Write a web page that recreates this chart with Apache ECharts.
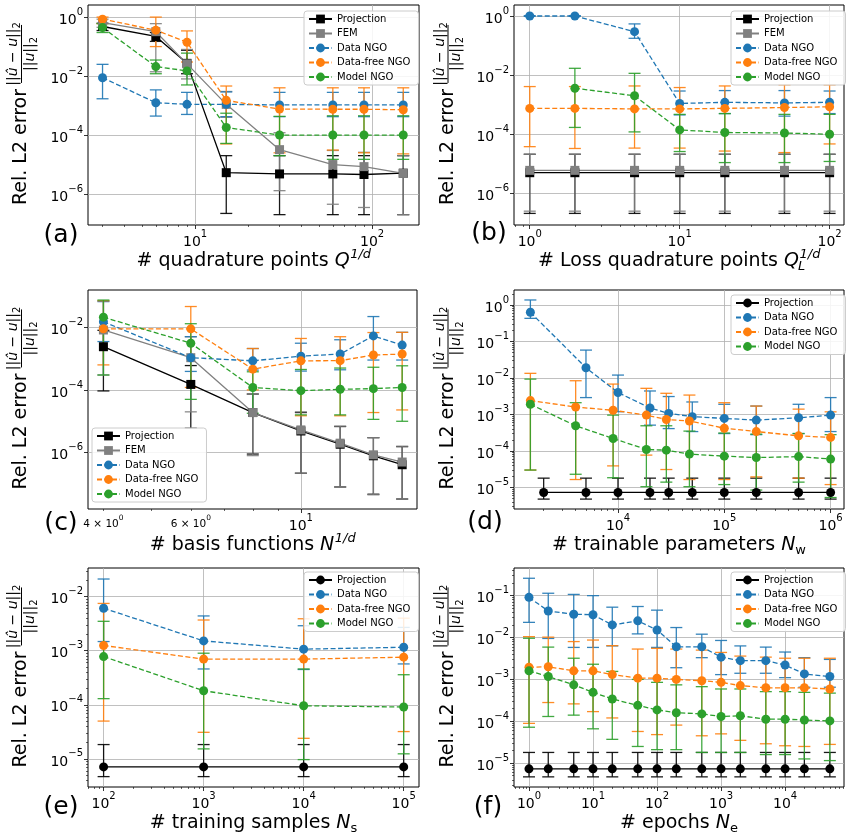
<!DOCTYPE html>
<html><head><meta charset="utf-8">
<script src="https://cdn.jsdelivr.net/npm/echarts@6/dist/echarts.min.js"></script>
<style>html,body{margin:0;padding:0;background:#fff}#c{width:852px;height:838px}</style>
</head><body><div id="c"></div>
<script>
// ---------------- DATA ----------------
// (a) quadrature points
const A_X = [3, 6, 9, 15, 30, 60, 90, 150];
const A_PROJ = [0.48, 0.22, 0.027, 5.3e-6, 4.8e-6, 4.8e-6, 4.6e-6, 5.1e-6];
const A_PROJ_LO = [0.35, 0.15, 0.012, 2.2e-7, 2.0e-7, 2.0e-7, 2.0e-7, 2.0e-7];
const A_PROJ_HI = [0.62, 0.3, 0.075, 2.0e-5, 2.0e-5, 2.0e-5, 2.0e-5, 2.0e-5];
const A_FEM = [0.65, 0.32, 0.026, 1.1e-3, 3.2e-5, 1.0e-5, 8.5e-6, 5.0e-6];
const A_FEM_LO = [0.45, 0.014, 0.008, 4e-4, 1.3e-6, 4.5e-7, 3.5e-7, 2.0e-7];
const A_FEM_HI = [0.85, 0.6, 0.08, 3e-3, 1.2e-4, 3e-5, 2.6e-5, 2.0e-5];
const A_DATA = [8.8e-3, 1.25e-3, 1.1e-3, 1.1e-3, 1.05e-3, 1.05e-3, 1.05e-3, 1.05e-3];
const A_DATA_LO = [1.7e-3, 4.4e-4, 5e-4, 4.2e-4, 4.2e-4, 4.2e-4, 4.2e-4, 4.2e-4];
const A_DATA_HI = [2.5e-2, 3.4e-3, 2.8e-3, 2.9e-3, 2.8e-3, 2.8e-3, 2.8e-3, 2.8e-3];
const A_FREE = [0.85, 0.36, 0.14, 1.5e-3, 7.6e-4, 7.5e-4, 7.5e-4, 7.2e-4];
const A_FREE_LO = [0.6, 0.1, 0.03, 5e-5, 2.5e-5, 3.1e-5, 2.5e-5, 2.3e-5];
const A_FREE_HI = [1.0, 1.0, 0.34, 4.6e-3, 4e-3, 4e-3, 4e-3, 4e-3];
const A_MODEL = [0.44, 0.021, 0.015, 1.8e-4, 1.0e-4, 1.0e-4, 1.0e-4, 1.0e-4];
const A_MODEL_LO = [0.3, 0.012, 0.005, 5.2e-5, 2e-5, 1.5e-5, 1.5e-5, 1.5e-5];
const A_MODEL_HI = [0.6, 0.035, 0.06, 5.5e-4, 4.3e-4, 4.5e-4, 4.5e-4, 4.5e-4];

// (b) loss quadrature points
const B_X = [1, 2, 5, 10, 20, 50, 100];
const B_PROJ = [5.0e-6, 5.0e-6, 5.0e-6, 5.0e-6, 5.0e-6, 5.0e-6, 5.0e-6];
const B_PROJ_LO = [2.1e-7, 2.1e-7, 2.1e-7, 2.1e-7, 2.1e-7, 2.1e-7, 2.1e-7];
const B_PROJ_HI = [2.1e-5, 2.1e-5, 2.1e-5, 2.1e-5, 2.1e-5, 2.1e-5, 2.1e-5];
const B_FEM = [6.0e-6, 6.0e-6, 6.0e-6, 6.0e-6, 6.0e-6, 6.0e-6, 6.0e-6];
const B_FEM_LO = [2.5e-7, 2.5e-7, 2.5e-7, 2.5e-7, 2.5e-7, 2.5e-7, 2.5e-7];
const B_FEM_HI = [2.1e-5, 2.1e-5, 2.1e-5, 2.1e-5, 2.1e-5, 2.1e-5, 2.1e-5];
const B_DATA = [1.0, 1.0, 0.295, 1.1e-3, 1.2e-3, 1.15e-3, 1.2e-3];
const B_DATA_LO = [0.97, 0.97, 0.176, 4.5e-4, 5e-4, 4.1e-4, 5e-4];
const B_DATA_HI = [1.03, 1.03, 0.54, 2.9e-3, 3e-3, 3e-3, 2.9e-3];
const B_FREE = [7.5e-4, 7.5e-4, 7.2e-4, 7.2e-4, 7.5e-4, 8e-4, 8.5e-4];
const B_FREE_LO = [3.8e-5, 3.3e-5, 3.4e-5, 3.4e-5, 2.7e-5, 2.4e-5, 4.7e-5];
const B_FREE_HI = [4.1e-3, 4.1e-3, 4.3e-3, 3.8e-3, 4.3e-3, 4.7e-3, 4.7e-3];
const B_X_MODEL = [2, 5, 10, 20, 50, 100];
const B_MODEL = [3.6e-3, 2.0e-3, 1.4e-4, 1.15e-4, 1.1e-4, 1.0e-4];
const B_MODEL_LO = [1.7e-4, 1.2e-4, 2.6e-5, 1.1e-5, 1.1e-5, 1.2e-5];
const B_MODEL_HI = [0.017, 0.0115, 4.7e-4, 5e-4, 4.7e-4, 4.7e-4];

// (c) basis functions
const C_X = [4, 6, 8, 10, 12, 14, 16];
const C_PROJ = [2.4e-3, 1.5e-4, 1.9e-5, 4.9e-6, 1.85e-6, 7.9e-7, 4.1e-7];
const C_PROJ_LO = [9.3e-5, 6e-6, 9e-7, 2.2e-7, 8e-8, 4.7e-8, 3.3e-8];
const C_PROJ_HI = [8e-3, 6e-4, 7.4e-5, 1.9e-5, 6.8e-6, 3e-6, 1.55e-6];
const C_FEM = [8.2e-3, 1.07e-3, 1.9e-5, 5.3e-6, 2.0e-6, 8.5e-7, 5.0e-7];
const C_FEM_LO = [3e-4, 2e-5, 8e-7, 2.2e-7, 8e-8, 4.5e-8, 3.3e-8];
const C_FEM_HI = [0.07, 5e-3, 7.4e-5, 2e-5, 7e-6, 3e-6, 1.6e-6];
const C_DATA = [1.5e-2, 1.07e-3, 8.5e-4, 1.2e-3, 1.4e-3, 5.3e-3, 2.7e-3];
const C_DATA_LO = [3.5e-3, 3.9e-4, 4.3e-4, 4e-4, 4.4e-4, 9e-4, 9e-4];
const C_DATA_HI = [0.066, 5e-3, 2.1e-3, 3.1e-3, 4e-3, 0.022, 6.9e-3];
const C_FREE = [8.9e-3, 8.9e-3, 4.6e-4, 8.5e-4, 8.6e-4, 1.3e-3, 1.4e-3];
const C_FREE_LO = [6.3e-4, 1.2e-4, 1e-4, 1.5e-5, 1.5e-5, 1.9e-5, 2.3e-5];
const C_FREE_HI = [0.07, 0.046, 2.1e-3, 4.4e-3, 5e-3, 6.8e-3, 6.9e-3];
const C_MODEL = [0.021, 3.1e-3, 1.2e-4, 9.5e-5, 1.05e-4, 1.1e-4, 1.2e-4];
const C_MODEL_LO = [3e-4, 5e-5, 1.8e-5, 1.6e-5, 1.6e-5, 1.15e-5, 1.0e-5];
const C_MODEL_HI = [0.074, 0.013, 3.8e-4, 4.5e-4, 5e-4, 5.3e-4, 5.9e-4];

// (d) trainable parameters
const D_X_PROJ = [2e3, 5e3, 1e4, 2e4, 3e4, 5e4, 1e5, 2e5, 5e5, 1e6];
const D_PROJ = [7.3e-6, 7.3e-6, 7.3e-6, 7.3e-6, 7.3e-6, 7.3e-6, 7.3e-6, 7.3e-6, 7.3e-6, 7.3e-6];
const D_PROJ_LO = [4.8e-6, 4.8e-6, 4.8e-6, 4.8e-6, 4.8e-6, 4.8e-6, 4.8e-6, 4.8e-6, 4.8e-6, 4.8e-6];
const D_PROJ_HI = [1.8e-5, 1.8e-5, 1.8e-5, 1.8e-5, 1.8e-5, 1.8e-5, 1.8e-5, 1.8e-5, 1.8e-5, 1.8e-5];
const D_X_DATA = [1.5e3, 5e3, 1e4, 2e4, 3e4, 5e4, 1e5, 2e5, 5e5, 1e6];
const D_DATA = [0.63, 0.019, 4.0e-3, 1.5e-3, 1.07e-3, 8.7e-4, 7.8e-4, 7.0e-4, 8.1e-4, 9.6e-4];
const D_DATA_LO = [0.43, 2.9e-3, 1.19e-3, 5.1e-4, 4.1e-4, 3.4e-4, 3.0e-4, 2.8e-4, 3.0e-4, 3.4e-4];
const D_DATA_HI = [1.37, 0.058, 0.012, 4.4e-3, 3.1e-3, 2.2e-3, 1.9e-3, 1.7e-3, 1.9e-3, 2.9e-3];
const D_X_NGO = [1.5e3, 4e3, 9e3, 1.85e4, 2.85e4, 4.7e4, 1e5, 2e5, 5e5, 1e6];
const D_FREE = [2.4e-3, 1.6e-3, 1.3e-3, 9.6e-4, 7.3e-4, 6.6e-4, 4.2e-4, 3.4e-4, 2.6e-4, 2.35e-4];
const D_FREE_LO = [3e-5, 1.65e-5, 3.9e-5, 7.7e-5, 3.1e-5, 1.65e-5, 1.65e-5, 1.95e-5, 1.8e-5, 1.2e-5];
const D_FREE_HI = [0.0134, 8.4e-3, 6.8e-3, 5.2e-3, 3.8e-3, 3.4e-3, 2.1e-3, 1.7e-3, 1.4e-3, 1.18e-3];
const D_MODEL = [1.9e-3, 4.9e-4, 2.2e-4, 1.1e-4, 1.05e-4, 8.2e-5, 7.2e-5, 6.6e-5, 7.0e-5, 6.0e-5];
const D_MODEL_LO = [3e-5, 2.3e-5, 1.85e-5, 1.05e-5, 1.4e-5, 1.05e-5, 1.2e-5, 8.5e-6, 1.4e-5, 5.3e-6];
const D_MODEL_HI = [9.3e-3, 2.1e-3, 9.6e-4, 4.9e-4, 4.9e-4, 3.5e-4, 3.1e-4, 2.9e-4, 3.0e-4, 2.8e-4];

// (e) training samples
const E_X = [1e2, 1e3, 1e4, 1e5];
const E_PROJ = [7.1e-6, 7.1e-6, 7.1e-6, 7.1e-6];
const E_PROJ_LO = [4.7e-6, 4.7e-6, 4.7e-6, 4.7e-6];
const E_PROJ_HI = [1.84e-5, 1.84e-5, 1.84e-5, 1.84e-5];
const E_DATA = [6.1e-3, 1.52e-3, 1.07e-3, 1.16e-3];
const E_DATA_LO = [1.48e-3, 4.6e-4, 4.5e-4, 5.7e-4];
const E_DATA_HI = [0.0212, 4.4e-3, 2.9e-3, 2.7e-3];
const E_FREE = [1.25e-3, 7e-4, 7e-4, 7.6e-4];
const E_FREE_LO = [5e-5, 3.1e-5, 2.4e-5, 3.2e-5];
const E_FREE_HI = [7.5e-3, 3.7e-3, 3.9e-3, 4e-3];
const E_MODEL = [7.8e-4, 1.82e-4, 9.6e-5, 9.1e-5];
const E_MODEL_LO = [1.3e-4, 1.53e-5, 9.7e-6, 1.24e-5];
const E_MODEL_HI = [3.5e-3, 9e-4, 4.6e-4, 3.6e-4];

// (f) epochs
const F_X = [1, 2, 5, 10, 20, 50, 100, 200, 500, 1000, 2000, 5000, 1e4, 2e4, 5e4];
const F_PROJ = [7.3e-6, 7.3e-6, 7.3e-6, 7.3e-6, 7.3e-6, 7.3e-6, 7.3e-6, 7.3e-6, 7.3e-6, 7.3e-6, 7.3e-6, 7.3e-6, 7.3e-6, 7.3e-6, 7.3e-6];
const F_PROJ_LO = [4.7e-6, 4.7e-6, 4.7e-6, 4.7e-6, 4.7e-6, 4.7e-6, 4.7e-6, 4.7e-6, 4.7e-6, 4.7e-6, 4.7e-6, 4.7e-6, 4.7e-6, 4.7e-6, 4.7e-6];
const F_PROJ_HI = [1.8e-5, 1.8e-5, 1.8e-5, 1.8e-5, 1.8e-5, 1.8e-5, 1.8e-5, 1.8e-5, 1.8e-5, 1.8e-5, 1.8e-5, 1.8e-5, 1.8e-5, 1.8e-5, 1.8e-5];
const F_DATA = [0.091, 0.043, 0.036, 0.035, 0.020, 0.025, 0.0151, 6.0e-3, 6.0e-3, 3.4e-3, 2.8e-3, 2.8e-3, 2.2e-3, 1.35e-3, 1.17e-3];
const F_DATA_LO = [0.023, 9.5e-3, 5.8e-3, 5.8e-3, 6.3e-3, 0.0122, 5.8e-3, 1.9e-3, 3.3e-3, 1.3e-3, 1.4e-3, 1.4e-3, 1.1e-3, 6.5e-4, 6.5e-4];
const F_DATA_HI = [0.26, 0.114, 0.107, 0.1, 0.053, 0.055, 0.045, 0.0173, 0.012, 8.5e-3, 6.3e-3, 5.9e-3, 4.5e-3, 3.3e-3, 3.0e-3];
const F_FREE = [1.95e-3, 2.0e-3, 1.6e-3, 1.6e-3, 1.3e-3, 1.07e-3, 1.07e-3, 1.0e-3, 9.3e-4, 8.5e-4, 7.1e-4, 6.3e-4, 6.3e-4, 6.3e-4, 5.9e-4];
const F_FREE_LO = [8.9e-5, 2.8e-4, 2.6e-4, 1.7e-4, 1.2e-4, 5.7e-5, 4.8e-5, 8.1e-5, 4.5e-5, 5e-5, 3.5e-5, 2.9e-5, 2.6e-5, 2.5e-5, 2.8e-5];
const F_FREE_HI = [0.0105, 0.0102, 8e-3, 8.7e-3, 6.4e-3, 5.3e-3, 5.5e-3, 5.3e-3, 5e-3, 4.4e-3, 3.6e-3, 3.4e-3, 3.2e-3, 3.2e-3, 3.2e-3];
const F_MODEL = [1.6e-3, 1.17e-3, 7.4e-4, 4.9e-4, 3.4e-4, 2.4e-4, 1.87e-4, 1.6e-4, 1.5e-4, 1.3e-4, 1.35e-4, 1.12e-4, 1.12e-4, 1.07e-4, 1.02e-4];
const F_MODEL_LO = [7.2e-5, 1.3e-4, 1.4e-4, 6.6e-5, 3.7e-5, 2.5e-5, 2.1e-5, 2.1e-5, 1.8e-5, 1.8e-5, 1.8e-5, 1.6e-5, 1.6e-5, 1.26e-5, 1.15e-5];
const F_MODEL_HI = [9.6e-3, 5.9e-3, 3.2e-3, 2.3e-3, 1.55e-3, 1.0e-3, 8.5e-4, 7.4e-4, 6.7e-4, 5.9e-4, 5.9e-4, 5.1e-4, 5.1e-4, 4.9e-4, 4.7e-4];

// tick decades (log10 exponents)
const A_XTICKS = [1, 2], A_YTICKS = [0, -2, -4, -6];
const B_XTICKS = [0, 1, 2], B_YTICKS = [0, -2, -4, -6];
const C_XTICKS = [1], C_YTICKS = [-2, -4, -6], C_XMINOR_LABELS = [4, 6];
const D_XTICKS = [4, 5, 6], D_YTICKS = [0, -1, -2, -3, -4, -5];
const E_XTICKS = [2, 3, 4, 5], E_YTICKS = [-2, -3, -4, -5];
const F_XTICKS = [0, 1, 2, 3, 4], F_YTICKS = [-1, -2, -3, -4, -5];

const NAMES5 = ['Projection', 'FEM', 'Data NGO', 'Data-free NGO', 'Model NGO'];
const NAMES4 = ['Projection ', 'Data NGO', 'Data-free NGO', 'Model NGO'];
// [plain text, italic symbol, superscript, subscript]
const X_LABELS = [
  ['# quadrature points ', 'Q', '1/d', ''],
  ['# Loss quadrature points ', 'Q', '1/d', 'L'],
  ['# basis functions ', 'N', '1/d', ''],
  ['# trainable parameters ', 'N', '', 'w'],
  ['# training samples ', 'N', '', 's'],
  ['# epochs ', 'N', '', 'e']
];
const PANEL_TAGS = ['(a)', '(b)', '(c)', '(d)', '(e)', '(f)'];

// ---------------- STYLE / BUILD ----------------
const FONT = 'DejaVu Sans';
const COL = {proj: '#000000', fem: '#808080', data: '#1f77b4', free: '#ff7f0e', model: '#2ca02c'};
const L = Math.log10;

function minors(lo, hi) {
  const out = [];
  for (let e = Math.floor(lo) - 1; e <= Math.ceil(hi); e++)
    for (let k = 2; k <= 9; k++) { const v = e + L(k); if (v > lo && v < hi) out.push(v); }
  return out;
}
const sup = e => (e < 0 ? '\u2212' + (-e) : '' + e);
const TICK_RICH = {
  b: {fontSize: 14, fontFamily: FONT, color: '#000', lineHeight: 20, verticalAlign: 'bottom'},
  s: {fontSize: 10, fontFamily: FONT, color: '#000', lineHeight: 12, verticalAlign: 'top'},
  m: {fontSize: 10.5, fontFamily: FONT, color: '#000', lineHeight: 16, verticalAlign: 'bottom'},
  ms: {fontSize: 7.5, fontFamily: FONT, color: '#000', lineHeight: 10, verticalAlign: 'top'}
};
const expFmt = v => '{b|10}{s|' + sup(Math.round(v)) + '}';

const panels = [
  {grid: {left: 88, top: 5, width: 331, height: 220}, xr: [0.395, 2.265], yr: [-7.05, 0.41],
   xt: A_XTICKS, yt: A_YTICKS, ymin: false, legend: {left: 304, top: 11}, names: NAMES5, tag: [61, 235],
   series: [
     ['Projection', A_X, A_PROJ, A_PROJ_LO, A_PROJ_HI, COL.proj, 'rect', false],
     ['FEM', A_X, A_FEM, A_FEM_LO, A_FEM_HI, COL.fem, 'rect', false],
     ['Data NGO', A_X, A_DATA, A_DATA_LO, A_DATA_HI, COL.data, 'circle', true],
     ['Data-free NGO', A_X, A_FREE, A_FREE_LO, A_FREE_HI, COL.free, 'circle', true],
     ['Model NGO', A_X, A_MODEL, A_MODEL_LO, A_MODEL_HI, COL.model, 'circle', true]]},
  {grid: {left: 514, top: 5, width: 330, height: 220}, xr: [-0.105, 2.096], yr: [-7.07, 0.372],
   xt: B_XTICKS, yt: B_YTICKS, ymin: false, legend: {left: 731, top: 11}, names: NAMES5, tag: [489, 233],
   series: [
     ['Projection', B_X, B_PROJ, B_PROJ_LO, B_PROJ_HI, COL.proj, 'rect', false],
     ['FEM', B_X, B_FEM, B_FEM_LO, B_FEM_HI, COL.fem, 'rect', false],
     ['Data NGO', B_X, B_DATA, B_DATA_LO, B_DATA_HI, COL.data, 'circle', true],
     ['Data-free NGO', B_X, B_FREE, B_FREE_LO, B_FREE_HI, COL.free, 'circle', true],
     ['Model NGO', B_X_MODEL, B_MODEL, B_MODEL_LO, B_MODEL_HI, COL.model, 'circle', true]]},
  {grid: {left: 88, top: 290, width: 329, height: 219}, xr: [0.571, 1.234], yr: [-7.8, -0.81],
   xt: C_XTICKS, yt: C_YTICKS, ymin: false, xminLabels: C_XMINOR_LABELS, legend: {left: 92, top: 428}, names: NAMES5, tag: [61, 523],
   series: [
     ['Projection', C_X, C_PROJ, C_PROJ_LO, C_PROJ_HI, COL.proj, 'rect', false],
     ['FEM', C_X, C_FEM, C_FEM_LO, C_FEM_HI, COL.fem, 'rect', false],
     ['Data NGO', C_X, C_DATA, C_DATA_LO, C_DATA_HI, COL.data, 'circle', true],
     ['Data-free NGO', C_X, C_FREE, C_FREE_LO, C_FREE_HI, COL.free, 'circle', true],
     ['Model NGO', C_X, C_MODEL, C_MODEL_LO, C_MODEL_HI, COL.model, 'circle', true]]},
  {grid: {left: 514, top: 290, width: 330, height: 219}, xr: [3.022, 6.126], yr: [-5.59, 0.41],
   xt: D_XTICKS, yt: D_YTICKS, ymin: true, legend: {left: 731, top: 295}, names: NAMES4, tag: [485, 522],
   series: [
     ['Projection ', D_X_PROJ, D_PROJ, D_PROJ_LO, D_PROJ_HI, COL.proj, 'circle', false],
     ['Data NGO', D_X_DATA, D_DATA, D_DATA_LO, D_DATA_HI, COL.data, 'circle', true],
     ['Data-free NGO', D_X_NGO, D_FREE, D_FREE_LO, D_FREE_HI, COL.free, 'circle', true],
     ['Model NGO', D_X_NGO, D_MODEL, D_MODEL_LO, D_MODEL_HI, COL.model, 'circle', true]]},
  {grid: {left: 88, top: 568, width: 331, height: 219}, xr: [1.844, 5.153], yr: [-5.52, -1.47],
   xt: E_XTICKS, yt: E_YTICKS, ymin: true, legend: {left: 304, top: 572}, names: NAMES4, tag: [61, 807],
   series: [
     ['Projection ', E_X, E_PROJ, E_PROJ_LO, E_PROJ_HI, COL.proj, 'circle', false],
     ['Data NGO', E_X, E_DATA, E_DATA_LO, E_DATA_HI, COL.data, 'circle', true],
     ['Data-free NGO', E_X, E_FREE, E_FREE_LO, E_FREE_HI, COL.free, 'circle', true],
     ['Model NGO', E_X, E_MODEL, E_MODEL_LO, E_MODEL_HI, COL.model, 'circle', true]]},
  {grid: {left: 514, top: 568, width: 330, height: 219}, xr: [-0.234, 4.92], yr: [-5.57, -0.34],
   xt: F_XTICKS, yt: F_YTICKS, ymin: true, legend: {left: 731, top: 572}, names: NAMES4, tag: [488, 807],
   series: [
     ['Projection ', F_X, F_PROJ, F_PROJ_LO, F_PROJ_HI, COL.proj, 'circle', false],
     ['Data NGO', F_X, F_DATA, F_DATA_LO, F_DATA_HI, COL.data, 'circle', true],
     ['Data-free NGO', F_X, F_FREE, F_FREE_LO, F_FREE_HI, COL.free, 'circle', true],
     ['Model NGO', F_X, F_MODEL, F_MODEL_LO, F_MODEL_HI, COL.model, 'circle', true]]}
];

function errRender(color) {
  return function (params, api) {
    const x = api.value(0);
    const p1 = api.coord([x, api.value(1)]);
    const p2 = api.coord([x, api.value(2)]);
    const w = 6;
    const st = {stroke: color, lineWidth: 1.3, opacity: 0.9};
    return {type: 'group', children: [
      {type: 'line', shape: {x1: p1[0], y1: p1[1], x2: p2[0], y2: p2[1]}, style: st},
      {type: 'line', shape: {x1: p1[0] - w, y1: p1[1], x2: p1[0] + w, y2: p1[1]}, style: st},
      {type: 'line', shape: {x1: p2[0] - w, y1: p2[1], x2: p2[0] + w, y2: p2[1]}, style: st}
    ]};
  };
}

const ctx = document.createElement('canvas').getContext('2d');
function tw(text, font) { ctx.font = font; return ctx.measureText(text).width; }

const FR_RICH = {
  n: {fontSize: 14, fontFamily: FONT, color: '#000', lineHeight: 18},
  i: {fontSize: 14, fontFamily: FONT, fontStyle: 'italic', color: '#000', lineHeight: 18},
  s: {fontSize: 10, fontFamily: FONT, color: '#000', lineHeight: 10, verticalAlign: 'bottom'}
};
function yLabel(cx, cy) {
  const W1 = tw('Rel. L2 error', '19px "DejaVu Sans"');
  const W2 = 58, gap = 6, T = W1 + gap + W2, x0 = -T / 2;
  const fc = x0 + W1 + gap + W2 / 2;
  return {type: 'group', x: cx, y: cy, rotation: Math.PI / 2, silent: true, children: [
    {type: 'text', x: x0, y: 0, style: {text: 'Rel. L2 error', fontSize: 19, fontFamily: FONT, fill: '#000', align: 'left', verticalAlign: 'middle'}},
    {type: 'text', x: fc, y: -8, style: {text: '{n|||}{i|\u00fb \u2212 u}{n|||}{s|2}', rich: FR_RICH, align: 'center', verticalAlign: 'middle'}},
    {type: 'line', shape: {x1: fc - W2 / 2, y1: 0, x2: fc + W2 / 2, y2: 0}, style: {stroke: '#000', lineWidth: 1}},
    {type: 'text', x: fc, y: 8.5, style: {text: '{n|||}{i|u}{n|||}{s|2}', rich: FR_RICH, align: 'center', verticalAlign: 'middle'}}
  ]};
}

// x-axis title: plain text + italic symbol, with superscript and subscript stacked (as mathtext does)
function xLabel(cx, cy, spec) {
  const [t, sym, sp, sb] = spec;
  const wt = tw(t, '19px "DejaVu Sans"');
  const ws = tw(sym, 'italic 19px "DejaVu Sans"');
  const wsp = sp ? tw(sp, 'italic 13px "DejaVu Sans"') : 0;
  const wsb = sb ? tw(sb, (sp ? 'italic ' : '') + '13px "DejaVu Sans"') : 0;
  const total = wt + ws + Math.max(wsp, wsb);
  const x0 = cx - total / 2;
  const els = [
    {type: 'text', x: x0, y: cy, silent: true, style: {text: t, fontSize: 19, fontFamily: FONT, fill: '#000', align: 'left', verticalAlign: 'middle'}},
    {type: 'text', x: x0 + wt, y: cy, silent: true, style: {text: sym, fontSize: 19, fontFamily: FONT, fontStyle: 'italic', fill: '#000', align: 'left', verticalAlign: 'middle'}}
  ];
  if (sp) els.push({type: 'text', x: x0 + wt + ws + 0.5, y: cy - 6, silent: true, style: {text: sp, fontSize: 13, fontFamily: FONT, fontStyle: 'italic', fill: '#000', align: 'left', verticalAlign: 'middle'}});
  if (sb) els.push({type: 'text', x: x0 + wt + ws - (sp ? 1 : 0), y: cy + 6, silent: true, style: {text: sb, fontSize: 13, fontFamily: FONT, fontStyle: sp ? 'italic' : 'normal', fill: '#000', align: 'left', verticalAlign: 'middle'}});
  return els;
}

const option = {animation: false, backgroundColor: '#ffffff', grid: [], xAxis: [], yAxis: [], series: [], legend: [], graphic: []};

panels.forEach((P, pi) => {
  option.grid.push(Object.assign({show: true, borderColor: '#000', borderWidth: 1, backgroundColor: 'rgba(0,0,0,0)'}, P.grid));
  const xi = option.xAxis.length, yi = option.yAxis.length;
  const tickStyle = {color: '#000', width: 0.8};
  option.xAxis.push({type: 'value', gridIndex: pi, position: 'bottom', min: P.xr[0], max: P.xr[1],
    axisLine: {show: false, onZero: false},
    axisTick: {show: true, customValues: P.xt, length: 4, lineStyle: tickStyle},
    axisLabel: {show: true, customValues: P.xt, formatter: expFmt, rich: TICK_RICH, margin: 4},
    splitLine: {show: true, lineStyle: {color: '#b0b0b0', width: 0.8}}});
  const xmin = minors(P.xr[0], P.xr[1]);
  const xminLab = P.xminLabels ? P.xminLabels.map(k => xmin.find(v => Math.abs(v - L(k)) < 1e-9)) : null;
  option.xAxis.push({type: 'value', gridIndex: pi, position: 'bottom', min: P.xr[0], max: P.xr[1],
    axisLine: {show: false, onZero: false},
    axisTick: {show: true, customValues: xmin, length: 2, lineStyle: {color: '#000', width: 0.6}},
    axisLabel: xminLab ? {show: true, customValues: xminLab, rich: TICK_RICH, margin: 5,
      formatter: v => '{m|' + Math.round(Math.pow(10, v)) + ' \u00d7 10}{ms|0}'} : {show: false},
    splitLine: {show: false}});
  option.yAxis.push({type: 'value', gridIndex: pi, position: 'left', min: P.yr[0], max: P.yr[1],
    axisLine: {show: false, onZero: false},
    axisTick: {show: true, customValues: P.yt, length: 4, lineStyle: tickStyle},
    axisLabel: {show: true, customValues: P.yt, formatter: expFmt, rich: TICK_RICH, margin: 5},
    splitLine: {show: true, lineStyle: {color: '#b0b0b0', width: 0.8}}});
  if (P.ymin) {
    option.yAxis.push({type: 'value', gridIndex: pi, position: 'left', min: P.yr[0], max: P.yr[1],
      axisLine: {show: false, onZero: false},
      axisTick: {show: true, customValues: minors(P.yr[0], P.yr[1]), length: 2, lineStyle: {color: '#000', width: 0.6}},
      axisLabel: {show: false}, splitLine: {show: false}});
  }
  P.series.forEach(([name, xs, ys, lo, hi, color, symbol, dashed]) => {
    option.series.push({type: 'custom', name: name + '#err' + pi, xAxisIndex: xi, yAxisIndex: yi, silent: true, clip: true,
      renderItem: errRender(color), data: xs.map((x, i) => [L(x), L(lo[i]), L(hi[i])]), encode: {x: 0, y: [1, 2]}});
    option.series.push({type: 'line', name: name, xAxisIndex: xi, yAxisIndex: yi, silent: true,
      data: xs.map((x, i) => [L(x), L(ys[i])]), symbol: symbol, symbolSize: 9, showSymbol: true,
      lineStyle: {color: color, width: 1.3, type: dashed ? [5, 2.5] : 'solid'},
      itemStyle: {color: color, borderWidth: 0}, emphasis: {disabled: true}});
  });
  option.legend.push({data: P.names, left: P.legend.left, top: P.legend.top, orient: 'vertical',
    itemWidth: 23, itemHeight: 11, itemGap: 2.5, padding: [2, 8, 2, 4], selectedMode: false,
    textStyle: {fontSize: 10, fontFamily: FONT, color: '#000', lineHeight: 12},
    backgroundColor: 'rgba(255,255,255,0.85)', borderColor: '#cccccc', borderWidth: 1, borderRadius: 3});
  const g = P.grid;
  xLabel(g.left + g.width / 2, g.top + g.height + 36, X_LABELS[pi]).forEach(e => option.graphic.push(e));
  option.graphic.push({type: 'text', x: P.tag[0], y: P.tag[1], silent: true,
    style: {text: PANEL_TAGS[pi], fontSize: 25, fontFamily: FONT, fill: '#000', align: 'center', verticalAlign: 'middle'}});
  option.graphic.push(yLabel(pi % 2 === 0 ? 21.5 : 448, g.top + g.height / 2));
});

const chart = echarts.init(document.getElementById('c'), null, {renderer: 'canvas'});
chart.setOption(option);
</script>
</body></html>
